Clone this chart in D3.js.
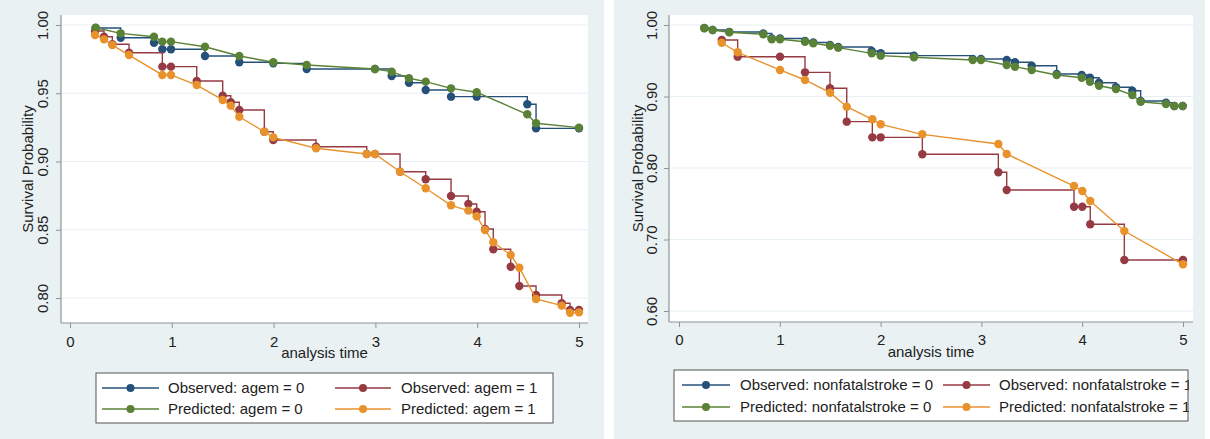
<!DOCTYPE html>
<html>
<head>
<meta charset="utf-8">
<script src="https://cdn.jsdelivr.net/npm/d3@7"></script>
<style>
  html, body { margin: 0; padding: 0; background: #ffffff; }
  svg { display: block; }
  text { font-family: "Liberation Sans", Arial, Helvetica, sans-serif; fill: #222; }
</style>
</head>
<body>
<svg id="chart" width="1210" height="439"></svg>
<script>
// ---------------- DATA ----------------
// Left panel: agem
const agemTimes0 = [0.252, 0.498, 0.825, 0.907, 0.992, 1.326, 1.663, 1.997, 2.325, 2.996, 3.160, 3.330, 3.494, 3.743, 3.995, 4.492, 4.578, 5.0];
const agemObserved0 = [0.9978, 0.9907, 0.9870, 0.9822, 0.9822, 0.9773, 0.9727, 0.9719, 0.9678, 0.9678, 0.9626, 0.9577, 0.9524, 0.9475, 0.9475, 0.9419, 0.9243, 0.9243];
const agemPredicted0 = [0.9980, 0.9939, 0.9914, 0.9878, 0.9878, 0.9841, 0.9773, 0.9727, 0.9707, 0.9678, 0.9658, 0.9610, 0.9585, 0.9536, 0.9507, 0.9346, 0.9280, 0.9248];

const agemTimes1 = [0.246, 0.334, 0.416, 0.580, 0.907, 0.992, 1.245, 1.500, 1.579, 1.663, 1.909, 1.997, 2.417, 2.915, 2.996, 3.242, 3.494, 3.743, 3.913, 3.995, 4.077, 4.158, 4.329, 4.414, 4.578, 4.830, 4.912, 5.0];
const agemObserved1 = [0.9956, 0.9914, 0.9859, 0.9797, 0.9695, 0.9695, 0.9590, 0.9482, 0.9434, 0.9377, 0.9218, 0.9158, 0.9108, 0.9055, 0.9055, 0.8925, 0.8870, 0.8747, 0.8689, 0.8632, 0.8505, 0.8357, 0.8229, 0.8088, 0.8022, 0.7961, 0.7912, 0.7912];
const agemPredicted1 = [0.9927, 0.9895, 0.9853, 0.9780, 0.9634, 0.9634, 0.9560, 0.9451, 0.9409, 0.9328, 0.9218, 0.9177, 0.9097, 0.9055, 0.9055, 0.8925, 0.8804, 0.8679, 0.8640, 0.8599, 0.8498, 0.8408, 0.8315, 0.8222, 0.7993, 0.7944, 0.7892, 0.7895];

// Right panel: nonfatalstroke
const strokeTimes0 = [0.251, 0.334, 0.499, 0.836, 0.920, 1.002, 1.250, 1.332, 1.498, 1.580, 1.912, 2.001, 2.331, 2.914, 2.996, 3.251, 3.333, 3.499, 3.747, 3.995, 4.077, 4.167, 4.335, 4.497, 4.580, 4.831, 4.914, 4.997];
const strokeObserved0 = [0.9958, 0.9930, 0.9902, 0.9881, 0.9811, 0.9811, 0.9776, 0.9755, 0.9720, 0.9692, 0.9636, 0.9604, 0.9571, 0.9524, 0.9524, 0.9510, 0.9478, 0.9431, 0.9315, 0.9301, 0.9263, 0.9193, 0.9129, 0.9081, 0.8937, 0.8913, 0.8867, 0.8867];
const strokePredicted0 = [0.9954, 0.9930, 0.9898, 0.9870, 0.9800, 0.9800, 0.9766, 0.9744, 0.9710, 0.9683, 0.9604, 0.9571, 0.9548, 0.9510, 0.9510, 0.9441, 0.9417, 0.9371, 0.9301, 0.9263, 0.9207, 0.9151, 0.9105, 0.9021, 0.8927, 0.8895, 0.8867, 0.8867];

const strokeTimes1 = [0.424, 0.582, 1.002, 1.250, 1.498, 1.664, 1.918, 2.001, 2.414, 3.168, 3.251, 3.919, 4.001, 4.080, 4.418, 5.0];
const strokeObserved1 = [0.9790, 0.9557, 0.9557, 0.9338, 0.9115, 0.8648, 0.8429, 0.8429, 0.8192, 0.7940, 0.7692, 0.7459, 0.7459, 0.7213, 0.6713, 0.6713];
const strokePredicted1 = [0.9752, 0.9618, 0.9371, 0.9231, 0.9053, 0.8857, 0.8681, 0.8611, 0.8471, 0.8336, 0.8196, 0.7748, 0.7678, 0.7538, 0.7119, 0.6653];

// Tick values and labels
const xTicks = [0, 1, 2, 3, 4, 5];
const agemYTicks = [0.80, 0.85, 0.90, 0.95, 1.00];
const strokeYTicks = [0.60, 0.70, 0.80, 0.90, 1.00];

const yTitle = "Survival Probability";
const xTitle = "analysis time";
const agemLegend = ["Observed: agem = 0", "Observed: agem = 1", "Predicted: agem = 0", "Predicted: agem = 1"];
const strokeLegend = ["Observed: nonfatalstroke = 0", "Observed: nonfatalstroke = 1", "Predicted: nonfatalstroke = 0", "Predicted: nonfatalstroke = 1"];

// ---------------- STYLE ----------------
const COLORS = { obs0: "#25507a", obs1: "#963a43", pred0: "#5a8236", pred1: "#e8922c" };
const BG = "#e9f1f3";
const AXIS = "#8a9598";

const svg = d3.select("#chart");

function drawPanel(cfg) {
  const g = svg.append("g");
  // panel background
  g.append("rect").attr("x", cfg.panel[0]).attr("y", 0)
    .attr("width", cfg.panel[1] - cfg.panel[0]).attr("height", 439).attr("fill", BG);
  // plot area
  const pl = cfg.plot;
  g.append("rect").attr("x", pl.left).attr("y", pl.top)
    .attr("width", pl.right - pl.left).attr("height", pl.bottom - pl.top).attr("fill", "#ffffff");

  const x = d3.scaleLinear().domain([0, 5]).range(cfg.xRange);
  const y = d3.scaleLinear().domain(cfg.yDomain).range(cfg.yRange);

  // gridlines
  g.append("g").selectAll("line").data(cfg.yTicks).join("line")
    .attr("x1", pl.left).attr("x2", pl.right)
    .attr("y1", d => y(d)).attr("y2", d => y(d))
    .attr("stroke", "#e6eff1").attr("stroke-width", 1);

  // axes
  const xAxis = g.append("g").attr("transform", `translate(0,${pl.bottom})`)
    .call(d3.axisBottom(x).tickValues(xTicks).tickFormat(d3.format("d")).tickSize(5).tickPadding(3));
  xAxis.select(".domain").remove();
  xAxis.selectAll("line").attr("stroke", AXIS);
  xAxis.selectAll("text").attr("y", cfg.xLabelY - pl.bottom).attr("dy", 0)
    .style("font-size", "15px").style("font-family", '"Liberation Sans", Arial, sans-serif').attr("fill", "#222");

  const yAxis = g.append("g").attr("transform", `translate(${pl.left},0)`)
    .call(d3.axisLeft(y).tickValues(cfg.yTicks).tickFormat(d3.format(".2f")).tickSize(5));
  yAxis.select(".domain").remove();
  yAxis.selectAll("line").attr("stroke", AXIS);
  yAxis.selectAll("text")
    .attr("transform", "rotate(-90)").attr("x", 0).attr("y", -cfg.yLabelOff).attr("dy", 0)
    .style("text-anchor", "middle").style("font-size", "15px")
    .style("font-family", '"Liberation Sans", Arial, sans-serif').attr("fill", "#222");

  // axis lines
  g.append("line").attr("x1", pl.left).attr("x2", pl.left).attr("y1", pl.top).attr("y2", pl.bottom)
    .attr("stroke", AXIS).attr("stroke-width", 1.2);
  g.append("line").attr("x1", pl.left).attr("x2", pl.right).attr("y1", pl.bottom).attr("y2", pl.bottom)
    .attr("stroke", AXIS).attr("stroke-width", 1.2);

  // titles
  g.append("text").attr("transform", `translate(${cfg.yTitleX},${(pl.top + pl.bottom) / 2}) rotate(-90)`)
    .attr("text-anchor", "middle").style("font-size", "15px").text(yTitle);
  g.append("text").attr("x", (pl.left + pl.right) / 2).attr("y", cfg.xTitleY)
    .attr("text-anchor", "middle").style("font-size", "15px").text(xTitle);

  // series
  const series = [
    { t: cfg.t0, v: cfg.obs0, color: COLORS.obs0, step: true },
    { t: cfg.t1, v: cfg.obs1, color: COLORS.obs1, step: true },
    { t: cfg.t0, v: cfg.pred0, color: COLORS.pred0, step: false },
    { t: cfg.t1, v: cfg.pred1, color: COLORS.pred1, step: false }
  ];
  series.forEach(s => {
    const pts = s.t.map((t, i) => [t, s.v[i]]);
    const line = d3.line().x(d => x(d[0])).y(d => y(d[1]))
      .curve(s.step ? d3.curveStepAfter : d3.curveLinear);
    g.append("path").datum(pts).attr("d", line).attr("fill", "none")
      .attr("stroke", s.color).attr("stroke-width", 1.4);
    g.append("g").selectAll("circle").data(pts).join("circle")
      .attr("cx", d => x(d[0])).attr("cy", d => y(d[1])).attr("r", 4.2)
      .attr("fill", s.color);
  });

  // legend
  const L = cfg.legend;
  const clipId = "clip" + cfg.id;
  svg.append("defs").append("clipPath").attr("id", clipId).append("rect")
    .attr("x", L.box[0]).attr("y", L.box[1]).attr("width", L.box[2] - L.box[0] + 1).attr("height", L.box[3] - L.box[1]);
  g.append("rect").attr("x", L.box[0]).attr("y", L.box[1])
    .attr("width", L.box[2] - L.box[0]).attr("height", L.box[3] - L.box[1])
    .attr("fill", "#ffffff");
  const keys = [
    { col: 0, row: 0, color: COLORS.obs0, label: cfg.labels[0] },
    { col: 1, row: 0, color: COLORS.obs1, label: cfg.labels[1] },
    { col: 0, row: 1, color: COLORS.pred0, label: cfg.labels[2] },
    { col: 1, row: 1, color: COLORS.pred1, label: cfg.labels[3] }
  ];
  const lg = g.append("g").attr("clip-path", `url(#${clipId})`);
  keys.forEach(k => {
    const c = L.cols[k.col];
    const ry = L.rows[k.row];
    lg.append("line").attr("x1", c[0]).attr("x2", c[1]).attr("y1", ry).attr("y2", ry)
      .attr("stroke", k.color).attr("stroke-width", 1.4);
    lg.append("circle").attr("cx", (c[0] + c[1]) / 2).attr("cy", ry).attr("r", 4).attr("fill", k.color);
    lg.append("text").attr("x", c[2]).attr("y", ry + 5).style("font-size", cfg.legendFont).text(k.label);
  });
  g.append("rect").attr("x", L.box[0]).attr("y", L.box[1])
    .attr("width", L.box[2] - L.box[0]).attr("height", L.box[3] - L.box[1])
    .attr("fill", "none").attr("stroke", "#555").attr("stroke-width", 1);
}

drawPanel({
  id: "L",
  panel: [0, 604],
  plot: { left: 61, right: 588, top: 15, bottom: 323 },
  xRange: [70, 579],
  yDomain: [0.80, 1.00], yRange: [298, 25],
  yTicks: agemYTicks,
  xLabelY: 347, xTitleY: 358, yLabelOff: 13.5, yTitleX: 33,
  t0: agemTimes0, obs0: agemObserved0, pred0: agemPredicted0,
  t1: agemTimes1, obs1: agemObserved1, pred1: agemPredicted1,
  labels: agemLegend, legendFont: "15px",
  legend: { box: [96, 373, 553, 423], rows: [388, 409], cols: [[102, 159, 168], [335, 391, 401]] }
});

drawPanel({
  id: "R",
  panel: [614, 1205],
  plot: { left: 669, right: 1193, top: 15, bottom: 322 },
  xRange: [679, 1183],
  yDomain: [0.60, 1.00], yRange: [311, 25],
  yTicks: strokeYTicks,
  xLabelY: 345, xTitleY: 357, yLabelOff: 12, yTitleX: 643,
  t0: strokeTimes0, obs0: strokeObserved0, pred0: strokePredicted0,
  t1: strokeTimes1, obs1: strokeObserved1, pred1: strokePredicted1,
  labels: strokeLegend, legendFont: "15px",
  legend: { box: [674, 370, 1188, 421], rows: [385, 407], cols: [[682, 730, 740], [943, 990, 999]] }
});
</script>
</body>
</html>
